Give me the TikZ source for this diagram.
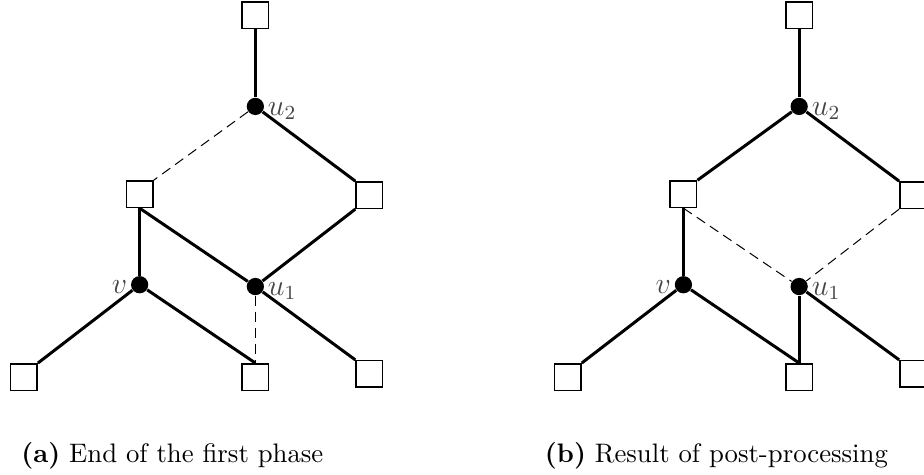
\documentclass[tikz,border=0pt]{standalone}
\usepackage{tikz}
\usepackage{xcolor}
\usetikzlibrary{calc}
\definecolor{labelGray}{RGB}{70,70,70}
\tikzset{
  leaf/.style={draw,fill=white,semithick,minimum size=10.6pt,inner sep=0pt},
  inner/.style={circle,fill=black,minimum size=6.9pt,inner sep=0pt},
  tree/.style={very thick},
  spare/.style={thin,dash pattern=on 4pt off 2.4pt},
  lbl/.style={text=labelGray,font=\large,inner sep=1.2pt},
  subcap/.style={anchor=base,font=\fontsize{10.7}{12}\selectfont}
}

\begin{document}
\begin{tikzpicture}[x=46.28pt,y=36.2pt]
\useasboundingbox (-0.207,-1.072) rectangle (7.779,4.166);

% (a) end of the first phase
\node[leaf] (aTop) at (2,4) {};
\node[inner,label={[lbl,yshift=-1.8pt]0:$u_2$}] (aU2) at (2,2.99) {};
\node[leaf] (aL) at (1,2.02) {};
\node[leaf] (aR) at (2.985,2.01) {};
\node[inner,label={[lbl,yshift=-1pt]180:$v$}] (aV) at (1,1.02) {};
\node[inner,label={[lbl,yshift=-1.8pt]0:$u_1$}] (aU1) at (2,1.0) {};
\node[leaf] (aBL) at (0,0) {};
\node[leaf] (aBM) at (2,0) {};
\node[leaf] (aBR) at (2.985,0.035) {};

\draw[tree] (aTop.south) -- (aU2);
\draw[spare] (aU2) -- (aL.north east);
\draw[tree] (aU2) -- (aR.north west);
\draw[tree] (aL.south) -- (aV);
\draw[tree] (aL.south) -- (aU1);
\draw[tree] (aR.south west) -- (aU1);
\draw[tree] (aV) -- (aBL.north east);
\draw[tree] (aV) -- (aBM.north);
\draw[spare] (aU1) -- (aBM.north);
\draw[tree] (aU1) -- (aBR.north west);

\node[subcap] (capA) at (1.283,-0.939) {\textbf{(a)} End of the first phase};

% (b) result of post-processing
\begin{scope}[xshift=4.70*46.28pt]
\node[leaf] (bTop) at (2,4) {};
\node[inner,label={[lbl,yshift=-1.8pt]0:$u_2$}] (bU2) at (2,2.99) {};
\node[leaf] (bL) at (1,2.02) {};
\node[leaf] (bR) at (2.985,2.01) {};
\node[inner,label={[lbl,yshift=-1pt]180:$v$}] (bV) at (1,1.02) {};
\node[inner,label={[lbl,yshift=-1.8pt]0:$u_1$}] (bU1) at (2,1.0) {};
\node[leaf] (bBL) at (0,0) {};
\node[leaf] (bBM) at (2,0) {};
\node[leaf] (bBR) at (2.985,0.035) {};

\draw[tree] (bTop.south) -- (bU2);
\draw[tree] (bU2) -- (bL.north east);
\draw[tree] (bU2) -- (bR.north west);
\draw[tree] (bL.south) -- (bV);
\draw[spare] (bL.south) -- (bU1);
\draw[spare] (bR.south west) -- (bU1);
\draw[tree] (bV) -- (bBL.north east);
\draw[tree] (bV) -- (bBM.north);
\draw[tree] (bU1) -- (bBM.north);
\draw[tree] (bU1) -- (bBR.north west);

\node[subcap] (capB) at (1.285,-0.939) {\textbf{(b)} Result of post-processing};
\end{scope}
\end{tikzpicture}
\end{document}
